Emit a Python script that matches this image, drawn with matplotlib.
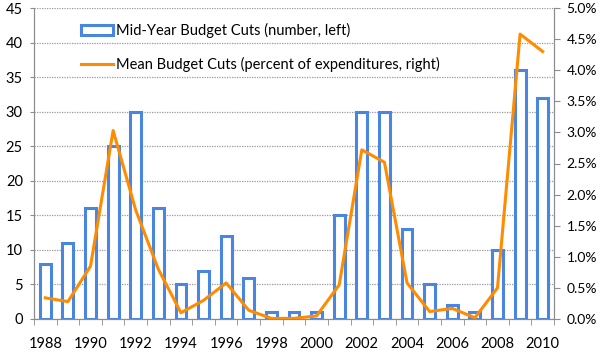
import numpy as np
import matplotlib
matplotlib.use("Agg")
import matplotlib.pyplot as plt
from matplotlib.ticker import FuncFormatter

plt.rcParams['font.family'] = ['Lato', 'DejaVu Sans']

years = list(range(1988, 2011))
cuts_number = [8, 11, 16, 25, 30, 16, 5, 7, 12, 6, 1, 1, 1, 15, 30, 30, 13, 5, 2, 1, 10, 36, 32]
cuts_percent = [0.34, 0.28, 0.85, 3.03, 1.75, 0.8, 0.1, 0.3, 0.58, 0.14, 0.01, 0.01, 0.05,
                0.55, 2.72, 2.52, 0.58, 0.12, 0.17, 0.02, 0.5, 4.58, 4.3]

blue = '#4a86e0'
orange = '#ff8c00'
grey = '#8c8c8c'

fig = plt.figure(figsize=(6, 3.53), dpi=100)
ax = fig.add_axes([34 / 600, 1 - 319 / 353, 520 / 600, 311 / 353])
x = np.arange(len(years))

bars = ax.bar(x, cuts_number, width=0.48, facecolor='white', edgecolor=blue,
              linewidth=2.2, label='Mid-Year Budget Cuts (number, left)', zorder=2)
ax.set_xlim(-0.5, len(years) - 0.5)
ax.set_ylim(0, 45)
ax.set_yticks(range(0, 46, 5))
ax.yaxis.grid(True, linestyle=(0, (1, 1)), color='#999999', linewidth=0.9, zorder=0)
ax.set_axisbelow(True)

ax.set_xticks(x[::2])
ax.set_xticklabels([str(y) for y in years[::2]])
ax.set_xticks(np.arange(-0.5, len(years), 1), minor=True)
ax.tick_params(axis='x', which='major', length=0, pad=13, labelsize=10.5)
ax.tick_params(axis='x', which='minor', length=4, color=grey, direction='out')
ax.tick_params(axis='y', length=3, color=grey, labelsize=10.5, pad=5)

for s in ['left', 'bottom', 'right']:
    ax.spines[s].set_color(grey)
ax.spines['top'].set_visible(False)

ax2 = ax.twinx()
line, = ax2.plot(x, cuts_percent, color=orange, linewidth=2.2,
                 label='Mean Budget Cuts (percent of expenditures, right)', zorder=3)
ax2.set_ylim(0, 5)
ax2.set_yticks(np.arange(0, 5.01, 0.5))
ax2.yaxis.set_major_formatter(FuncFormatter(lambda v, p: f'{v:.1f}%'))
ax2.tick_params(axis='y', length=4, color=grey, labelsize=10, pad=5)
for s in ['left', 'bottom', 'right']:
    ax2.spines[s].set_color(grey)
ax2.spines['top'].set_visible(False)

ax2.legend([bars, line], [bars.get_label(), line.get_label()],
           loc='upper left', bbox_to_anchor=(0.065, 0.995), frameon=False,
           fontsize=10.5, labelspacing=1.3, handlelength=2.2, handletextpad=0.2)

fig.savefig('out.png', dpi=100)
